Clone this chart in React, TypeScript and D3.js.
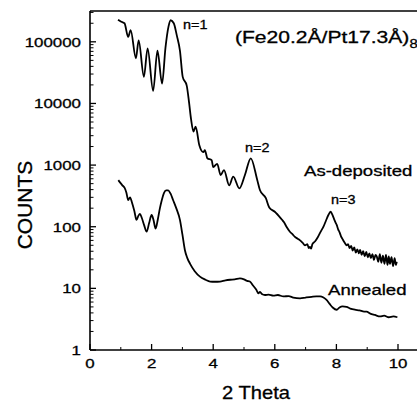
import React from "react";
import * as d3 from "d3";

const asDepTheta = [0.91, 1.0, 1.12, 1.24, 1.32, 1.49, 1.58, 1.75, 1.87, 2.05, 2.19, 2.34, 2.45, 2.55, 2.62, 2.72, 2.82, 2.92, 3.01, 3.14, 3.22, 3.28, 3.36, 3.43, 3.55, 3.68, 3.73, 3.81, 3.95, 4.0, 4.13, 4.24, 4.35, 4.52, 4.65, 4.85, 5.03, 5.22, 5.43, 5.52, 5.71, 5.82, 6.0, 6.22, 6.3, 6.38, 6.49, 6.58, 6.66, 6.74, 6.82, 6.9, 6.98, 7.06, 7.1, 7.14, 7.18, 7.22, 7.31, 7.4, 7.5, 7.58, 7.66, 7.74, 7.81, 7.86, 7.92, 7.97, 8.01, 8.06, 8.1, 8.15, 8.2, 8.24, 8.28, 8.33, 8.38, 8.43, 8.48, 8.53, 8.58, 8.63, 8.68, 8.73, 8.77, 8.82, 8.87, 8.92, 8.97, 9.02, 9.07, 9.12, 9.17, 9.22, 9.27, 9.31, 9.36, 9.41, 9.46, 9.51, 9.56, 9.61, 9.66, 9.7, 9.74, 9.79, 9.84, 9.89, 9.93, 9.96];
const asDepCounts = [229000, 214000, 200000, 120000, 155000, 54000, 105000, 27000, 78000, 16000, 72000, 21000, 80000, 178000, 224000, 200000, 126000, 72000, 27000, 19500, 10000, 5600, 3500, 4200, 2100, 1620, 1740, 1290, 1200, 930, 1050, 690, 830, 470, 650, 420, 690, 1290, 575, 390, 290, 205, 175, 132, 118, 100, 83, 75, 68, 64, 60, 55, 50, 52, 45, 47, 44, 52, 58, 68, 85, 100, 125, 155, 175, 160, 135, 118, 107, 90, 82, 70, 63, 58, 54, 50, 52, 45, 49, 41, 46, 38, 43, 37, 42, 35, 40, 33, 39, 32, 37, 31, 36, 29, 35, 33, 27, 36, 26, 34, 25, 35, 24, 33, 25, 32, 23, 31, 24, 27];

const annTheta = [0.92, 0.98, 1.05, 1.12, 1.18, 1.24, 1.3, 1.36, 1.44, 1.51, 1.57, 1.62, 1.68, 1.76, 1.84, 1.92, 2.0, 2.06, 2.13, 2.2, 2.27, 2.33, 2.4, 2.47, 2.54, 2.62, 2.7, 2.8, 2.92, 3.0, 3.08, 3.16, 3.25, 3.4, 3.57, 3.75, 3.9, 4.05, 4.22, 4.4, 4.55, 4.7, 4.87, 5.0, 5.1, 5.19, 5.3, 5.4, 5.47, 5.52, 5.58, 5.68, 5.8, 5.95, 6.1, 6.28, 6.45, 6.6, 6.82, 7.0, 7.2, 7.35, 7.47, 7.58, 7.68, 7.78, 7.88, 8.01, 8.1, 8.2, 8.33, 8.45, 8.6, 8.75, 8.9, 8.98, 9.1, 9.25, 9.42, 9.55, 9.7, 9.85, 9.98];
const annCounts = [570, 520, 470, 430, 360, 270, 300, 250, 180, 129, 150, 162, 140, 105, 83, 115, 155, 130, 93, 130, 200, 269, 350, 390, 389, 340, 269, 200, 129, 75, 42, 31, 25, 19, 15.5, 13.8, 12.9, 12.8, 12.9, 13.5, 13.8, 14, 14.5, 14, 13.2, 12.9, 11, 9.5, 8.3, 8.8, 8.1, 7.8, 7.9, 7.6, 7.8, 7.4, 7.5, 7.1, 6.9, 7.1, 7.3, 7.4, 7.4, 7.1, 6.5, 5.6, 4.9, 4.5, 4.9, 5.1, 5.0, 4.7, 4.5, 4.4, 4.2, 4.2, 3.9, 3.7, 3.5, 3.6, 3.4, 3.5, 3.4];

const xTickLabels = [0, 2, 4, 6, 8, 10];
const yTickLabels = [1, 10, 100, 1000, 10000, 100000];

const W = 417;
const H = 402;
const FONT = "'Liberation Sans', Arial, sans-serif";

export default function App() {
  const x = d3.scaleLinear().domain([0, 10]).range([90, 398]);
  const y = d3.scaleLog().domain([1, Math.pow(10, 5.5)]).range([350, 11]);
  const line = d3
    .line<[number, number]>()
    .x((d) => x(d[0]))
    .y((d) => y(d[1]))
    .curve(d3.curveMonotoneX);
  const asDep = asDepTheta.map((t, i) => [t, asDepCounts[i]] as [number, number]);
  const ann = annTheta.map((t, i) => [t, annCounts[i]] as [number, number]);

  const yMinor: number[] = [];
  for (let e = 0; e <= 5; e++) {
    for (let k = 2; k <= 9; k++) {
      const v = k * Math.pow(10, e);
      if (v <= Math.pow(10, 5.5)) yMinor.push(v);
    }
  }
  const xMinor = [1, 3, 5, 7, 9];
  const xEnd = W;

  const txt = (
    s: React.ReactNode,
    px: number,
    py: number,
    size: number,
    sx: number,
    anchor: string = "start"
  ) => (
    <text
      transform={`translate(${px},${py}) scale(${sx},1)`}
      fontSize={size}
      fontFamily={FONT}
      textAnchor={anchor}
      fill="#000"
      stroke="#000"
      strokeWidth={0.3}
    >
      {s}
    </text>
  );

  return (
    <svg
      width={W}
      height={H}
      style={{ position: "absolute", left: 0, top: 0, background: "#fff" }}
    >
      <rect x={0} y={0} width={W} height={H} fill="#fff" />
      {/* frame */}
      <line x1={x(0)} x2={x(0)} y1={y(Math.pow(10, 5.5))} y2={y(1)} stroke="#000" strokeWidth={1.6} />
      <line x1={x(0)} x2={xEnd} y1={y(1)} y2={y(1)} stroke="#000" strokeWidth={1.6} />
      <line x1={x(0)} x2={xEnd} y1={y(Math.pow(10, 5.5))} y2={y(Math.pow(10, 5.5))} stroke="#000" strokeWidth={1.4} />
      {/* y ticks */}
      {yTickLabels.map((v) => (
        <g key={"yt" + v}>
          <line x1={x(0)} x2={x(0) + 6} y1={y(v)} y2={y(v)} stroke="#000" strokeWidth={1.3} />
          {txt(String(v), 81, y(v) + 5, 13.5, 1.25, "end")}
        </g>
      ))}
      {yMinor.map((v) => (
        <line key={"ym" + v} x1={x(0)} x2={x(0) + 3.5} y1={y(v)} y2={y(v)} stroke="#000" strokeWidth={1} />
      ))}
      {/* x ticks */}
      {xTickLabels.map((v) => (
        <g key={"xt" + v}>
          <line x1={x(v)} x2={x(v)} y1={y(1)} y2={y(1) - 6} stroke="#000" strokeWidth={1.3} />
          {txt(String(v), x(v), 368, 13.5, 1.25, "middle")}
        </g>
      ))}
      {xMinor.map((v) => (
        <line key={"xm" + v} x1={x(v)} x2={x(v)} y1={y(1)} y2={y(1) - 3} stroke="#000" strokeWidth={1} />
      ))}
      {/* curves */}
      <path d={line(asDep) || ""} fill="none" stroke="#000" strokeWidth={1.8} strokeLinejoin="round" />
      <path d={line(ann) || ""} fill="none" stroke="#000" strokeWidth={1.8} strokeLinejoin="round" />
      {/* axis titles */}
      {txt("2 Theta", 256, 399, 18, 1.12, "middle")}
      <text
        transform={`translate(32,205) rotate(-90)`}
        fontSize={21}
        fontFamily={FONT}
        textAnchor="middle"
        fill="#000"
        stroke="#000"
        strokeWidth={0.3}
      >
        COUNTS
      </text>
      {/* annotations */}
      {txt("n=1", 183, 29, 12, 1.2)}
      {txt("n=2", 245, 152, 12, 1.2)}
      {txt("n=3", 331, 204, 12, 1.2)}
      {txt("As-deposited", 304, 176, 15, 1.24)}
      {txt("Annealed", 328, 295, 15, 1.24)}
      <text
        transform={`translate(235,43) scale(1.24,1)`}
        fontSize={17}
        fontFamily={FONT}
        fill="#000"
        stroke="#000"
        strokeWidth={0.3}
      >
        (Fe20.2Å/Pt17.3Å)
        <tspan fontSize={12} dy={5}>8</tspan>
      </text>
    </svg>
  );
}
